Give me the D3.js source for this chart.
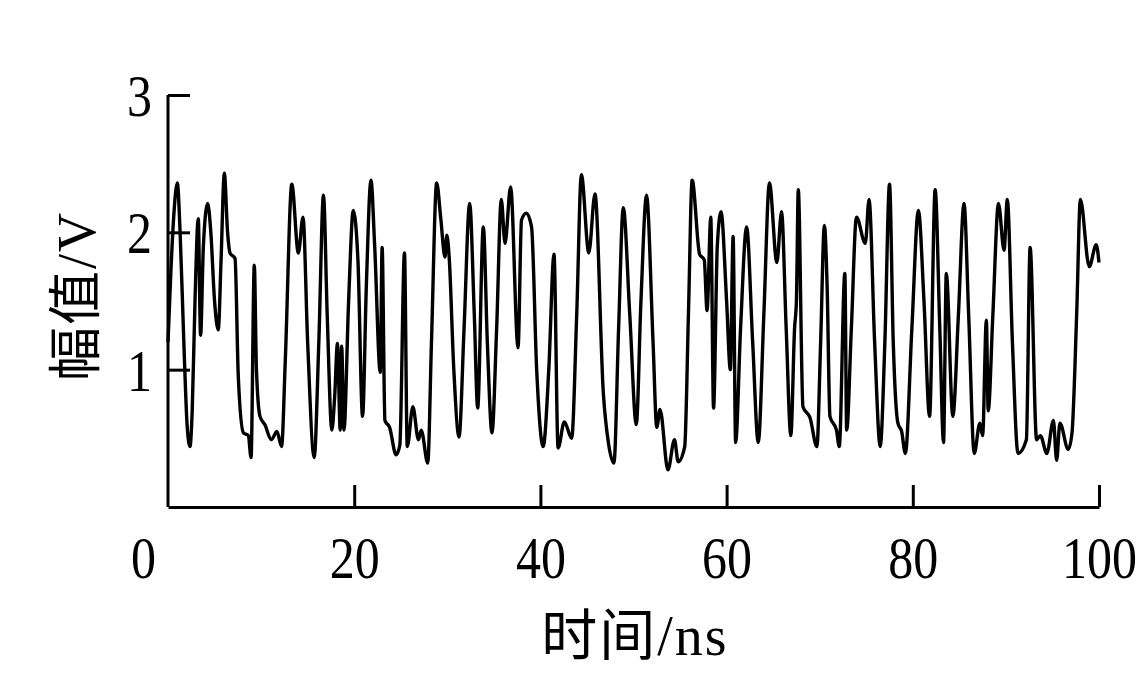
<!DOCTYPE html>
<html><head><meta charset="utf-8">
<script src="https://cdn.jsdelivr.net/npm/d3@7/dist/d3.min.js"></script>
<style>
html,body{margin:0;padding:0;background:#fff;}
svg{display:block;}
text{font-family:"Liberation Serif","Times New Roman","Noto Sans CJK SC",serif;fill:#000;}
</style></head>
<body>
<svg id="c" width="1146" height="676"></svg>
<script>
const xTicks = [0, 20, 40, 60, 80, 100];
const yTicks = [1, 2, 3];
const xLabel = "时间/ns";
const yLabel = "幅值/V";
const time = [0,0.3,0.6,1.0,1.3,1.7,2.05,2.36,2.6,2.9,3.25,3.5,3.8,4.26,4.6,5.0,5.4,5.7,6.05,6.4,6.66,7.2,7.55,8.1,8.63,8.92,9.27,9.5,9.88,10.4,11.1,11.7,12.2,12.6,13.3,14.0,14.5,15.0,15.7,16.2,16.7,17.1,17.6,17.9,18.2,18.5,18.65,18.9,19.4,19.9,20.4,20.9,21.3,21.8,22.2,22.8,23.0,23.3,23.8,24.5,24.9,25.4,25.7,26.3,26.9,27.2,27.9,28.3,28.86,29.3,29.75,29.95,30.2,30.7,31.26,31.8,32.4,32.9,33.26,33.87,34.3,34.8,35.3,35.8,36.2,36.8,37.6,37.97,38.5,39.05,39.6,40.3,40.9,41.46,41.9,42.57,43.36,43.9,44.4,45.2,45.86,46.76,47.3,47.9,48.4,48.9,49.6,50.3,50.8,51.4,52.1,52.5,52.85,53.7,54.4,54.8,55.5,55.9,56.3,57.1,57.6,57.9,58.3,58.6,59.0,59.4,60.0,60.4,60.7,60.97,61.5,62.15,62.8,63.4,64.0,64.6,65.4,65.9,66.4,66.9,67.3,67.5,67.7,68.2,68.96,69.7,70.1,70.5,70.8,71.1,71.8,72.1,72.7,72.9,73.4,73.95,74.9,75.3,75.9,76.5,77.0,77.5,77.9,78.4,78.8,79.2,79.9,80.6,81.2,81.8,82.4,82.9,83.3,83.6,84.3,84.9,85.5,86.0,86.6,87.2,87.5,87.9,88.1,88.6,89.2,89.8,90.15,90.7,91.3,92.2,92.6,93.3,93.7,94.4,95.1,95.45,95.8,96.7,97.1,97.6,98.0,98.95,99.7,100];
const amplitude = [1.2,1.7,2.1,2.36,2.0,1.2,0.6,0.44,0.7,1.5,2.1,1.25,1.9,2.21,2.0,1.5,1.29,1.8,2.43,2.0,1.85,1.81,0.95,0.54,0.52,0.36,1.76,1.0,0.66,0.6,0.49,0.55,0.44,1.07,2.35,1.85,2.11,1.2,0.36,1.2,2.27,1.4,0.56,0.8,1.19,0.56,1.17,0.56,1.5,2.16,1.8,0.66,1.6,2.38,1.9,0.98,1.89,0.63,0.58,0.38,0.45,1.85,0.44,0.73,0.49,0.56,0.32,1.2,2.36,2.1,1.82,1.98,1.82,1.0,0.51,1.3,2.21,1.4,0.72,2.04,1.2,0.54,1.3,2.24,1.92,2.33,1.16,2.09,2.14,2.04,1.0,0.44,1.0,1.84,0.43,0.62,0.5,1.4,2.42,1.85,2.28,0.83,0.47,0.32,1.3,2.18,1.4,0.6,1.5,2.27,1.2,0.58,0.71,0.27,0.49,0.33,0.44,1.4,2.38,1.84,1.8,1.43,2.11,0.72,1.9,2.15,1.5,1.0,1.97,0.47,1.3,2.04,1.2,0.47,1.4,2.36,1.78,2.15,1.3,0.52,1.3,1.5,2.31,0.73,0.65,0.44,1.2,2.05,1.6,0.66,0.56,0.44,1.70,0.56,1.3,2.11,1.92,2.24,1.2,0.44,1.2,2.35,1.2,0.61,0.55,0.39,1.3,2.16,1.5,0.66,2.31,1.3,0.47,1.70,0.66,1.4,2.21,1.4,0.39,0.61,0.52,1.36,0.7,1.4,2.21,1.87,2.24,1.2,0.39,0.49,1.89,0.49,0.52,0.39,0.63,0.34,0.61,0.42,0.54,1.4,2.24,1.75,1.91,1.78];

const svg = d3.select("#c");
const x = d3.scaleLinear().domain([0, 100]).range([168, 1099]);
const y = d3.scaleLinear().domain([0, 3]).range([507, 95]);

const data = time.map((t, i) => [t, amplitude[i]]);

// waveform
svg.append("path")
  .datum(data)
  .attr("fill", "none")
  .attr("stroke", "#000")
  .attr("stroke-width", 3.4)
  .attr("stroke-linejoin", "round")
  .attr("d", d3.line().x(d => x(d[0])).y(d => y(d[1])).curve(d3.curveMonotoneX));

const sy = 1.2; // vertical stretch of tick digits

// x axis
const xAxis = d3.axisBottom(x).tickValues(xTicks).tickSizeInner(-22).tickSizeOuter(0).tickFormat(d3.format("d")).tickPadding(0);
const gx = svg.append("g").attr("transform", `translate(0,${y(0)})`).call(xAxis);
gx.select(".domain").attr("stroke", "#000").attr("stroke-width", 3);
gx.selectAll(".tick line").attr("stroke", "#000").attr("stroke-width", 3).filter(d => d === 0).remove();
gx.selectAll(".tick text")
  .attr("y", 71 / sy).attr("dy", 0).attr("font-size", 50)
  .attr("x", d => d === 0 ? -25 : 0)
  .attr("transform", `scale(1,${sy})`);

// y axis
const yAxis = d3.axisLeft(y).tickValues(yTicks).tickSizeInner(-22).tickSizeOuter(0).tickFormat(d3.format("d"));
const gy = svg.append("g").attr("transform", `translate(${x(0)},0)`).call(yAxis);
gy.select(".domain").attr("stroke", "#000").attr("stroke-width", 3).attr("d", `M0,${y(3)}V${y(0)}`);
gy.selectAll(".tick line").attr("stroke", "#000").attr("stroke-width", 3);
gy.selectAll(".tick text").attr("x", -16).attr("dy", "0.34em").attr("font-size", 50)
  .attr("transform", `scale(1,${sy})`);

// axis labels
svg.append("text").attr("x", 635).attr("y", 655).attr("text-anchor", "middle")
  .attr("font-size", 56).attr("letter-spacing", 2).text(xLabel);
svg.append("text").attr("transform", "translate(95,296) rotate(-90)").attr("text-anchor", "middle")
  .attr("font-size", 54).attr("letter-spacing", 2).text(yLabel);
</script>
</body></html>
